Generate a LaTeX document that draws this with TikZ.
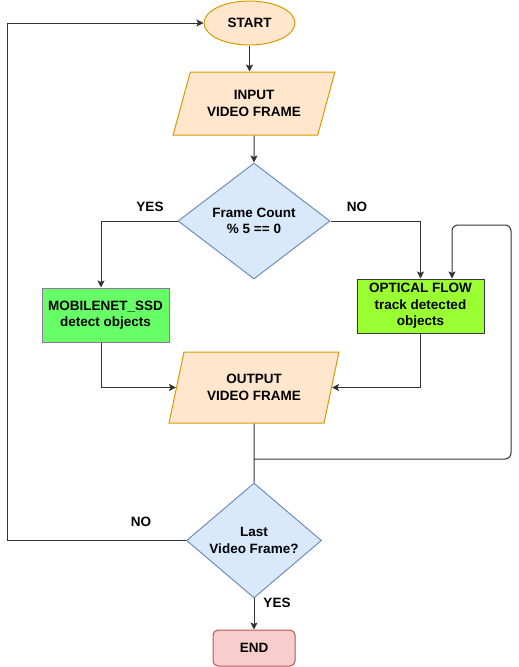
\documentclass[tikz,border=0pt]{standalone}
\usepackage{fontspec}
\setmainfont{Liberation Sans}
\usetikzlibrary{shapes.geometric,arrows.meta}
\definecolor{orfill}{HTML}{FFE6CC}
\definecolor{orline}{HTML}{D79B00}
\definecolor{blfill}{HTML}{DAE8FC}
\definecolor{blline}{HTML}{6C8EBF}
\definecolor{mobfill}{HTML}{66FF66}
\definecolor{mobline}{HTML}{9673A6}
\definecolor{optfill}{HTML}{99FF33}
\definecolor{optline}{HTML}{36393D}
\definecolor{endfill}{HTML}{F8CECC}
\definecolor{endline}{HTML}{B85450}
\definecolor{conn}{HTML}{333333}
\begin{document}
\begin{tikzpicture}[x=1pt,y=-1pt,
  every node/.style={font=\fontsize{13.5}{16.5}\selectfont\bfseries, align=center, inner sep=0pt},
  term/.style={ellipse, draw=orline, fill=orfill, line width=1pt},
  io/.style={trapezium, trapezium stretches=true, draw=orline, fill=orfill, line width=1pt},
  dec/.style={diamond, draw=blline, fill=blfill, line width=1pt},
  proc/.style={rectangle, line width=1pt},
  conn/.style={draw=conn, line width=1pt},
  arr/.style={conn, -{Stealth[length=7pt,width=7pt,inset=1.5pt]}},
  lbl/.style={font=\fontsize{13.5}{16}\selectfont\bfseries}
]
\useasboundingbox (0,0) rectangle (519,667);
\node[term, minimum width=91, minimum height=44] (start) at (249.5,23) {START};
\node[io, trapezium left angle=64, trapezium right angle=116, minimum width=162, minimum height=63] (in) at (254,103.5) {INPUT\\VIDEO FRAME};
\node[dec, minimum width=152, minimum height=116] (d1) at (254,221) {Frame Count\\\% 5 == 0};
\node[proc, draw=mobline, fill=mobfill, minimum width=127, minimum height=54] (mob) at (105.5,315) {MOBILENET\_SSD\\detect objects};
\node[proc, draw=optline, fill=optfill, minimum width=127, minimum height=54] (opt) at (420.5,306) {OPTICAL FLOW\\track detected\\objects};
\node[io, trapezium left angle=69, trapezium right angle=111, minimum width=170, minimum height=71] (out) at (254,387.5) {OUTPUT\\VIDEO FRAME};
\node[dec, minimum width=135, minimum height=107] (d2) at (254,540.5) {Last\\Video Frame?};
\node[proc, draw=endline, fill=endfill, rounded corners=5pt, minimum width=82, minimum height=36] (end) at (254,648) {END};

\node[lbl] (yes1) at (150,207) {YES};
\node[lbl] (no1) at (357,207) {NO};
\node[lbl] (no2) at (141,522) {NO};
\node[lbl] (yes2) at (277,603) {YES};

\coordinate (j) at (254,459);
\coordinate (c1) at (511,459);
\coordinate (c2) at (511,225);
\coordinate (c3) at (452,225);
\coordinate (l1) at (7,540.5);
\coordinate (l2) at (7,23);

\draw[arr] (start.south) -- (in.north -| start.south);
\draw[arr] (in.south) -- (d1.north);
\draw[arr] (d1.west) -| ([xshift=-4.5pt]mob.north);
\draw[arr] (d1.east) -| (opt.north);
\draw[arr] ([xshift=-4.5pt]mob.south) |- (out.west);
\draw[arr] (opt.south) |- (out.east);
\draw[conn] (out.south) -- (d2.north);
\draw[arr, rounded corners=6pt] (j) -- (c1) -- (c2) -- (c3) -- ([xshift=31.5pt]opt.north);
\draw[arr] (d2.west) -- (l1) -- (l2) -- (start.west);
\draw[arr] (d2.south) -- (end.north);
\end{tikzpicture}
\end{document}
